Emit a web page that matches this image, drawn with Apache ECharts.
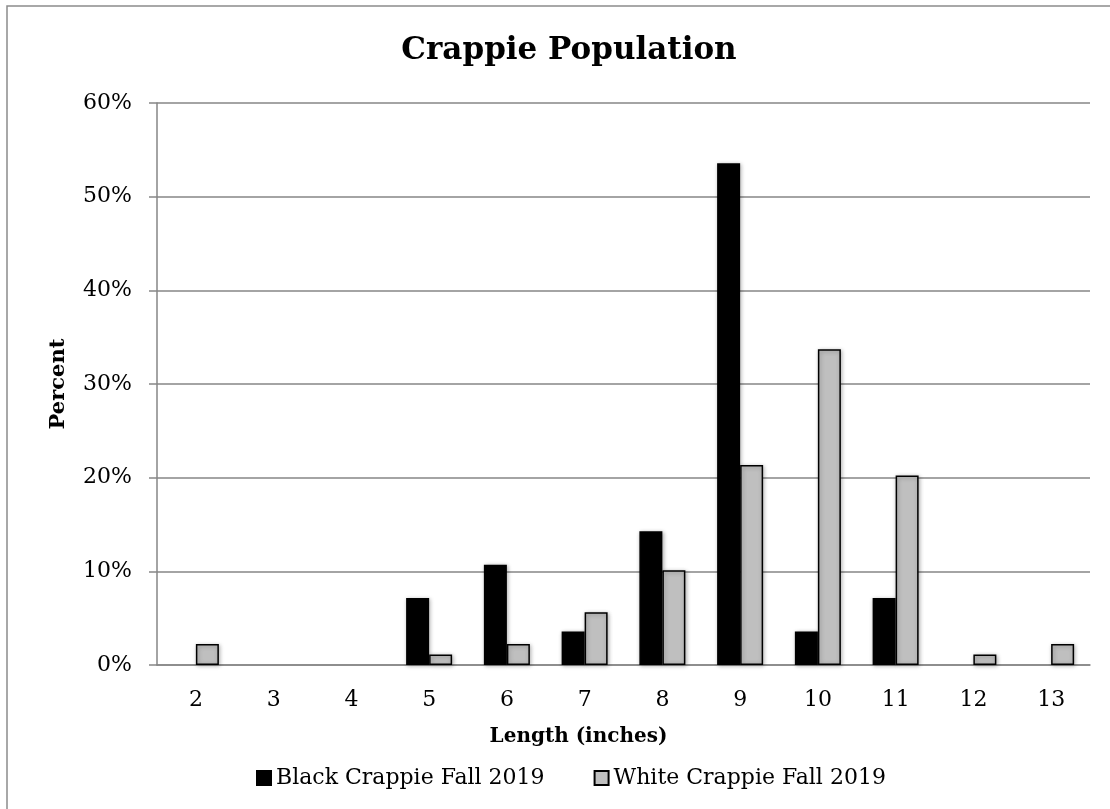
<!DOCTYPE html>
<html>
<head>
<meta charset="utf-8">
<script src="https://cdn.jsdelivr.net/npm/echarts@6/dist/echarts.min.js"></script>
<style>
  html, body { margin: 0; padding: 0; background: #fff; }
  #chart { width: 1110px; height: 809px; }
</style>
</head>
<body>
<div id="chart"></div>
<script>
// Length classes (inches)
const lengths = ['2', '3', '4', '5', '6', '7', '8', '9', '10', '11', '12', '13'];
// Percent of catch in each length class
const blackCrappie = [0, 0, 0, 7.14, 10.71, 3.57, 14.29, 53.57, 3.57, 7.14, 0, 0];
const whiteCrappie = [2.25, 0, 0, 1.12, 2.25, 5.62, 10.11, 21.35, 33.71, 20.22, 1.12, 2.25];
const seriesNames = ['Black Crappie Fall 2019', 'White Crappie Fall 2019'];

const FONT = '"DejaVu Serif", "Liberation Serif", serif';
const chart = echarts.init(document.getElementById('chart'), null, { renderer: 'canvas' });

const barStyle = (fill) => ({
  color: fill,
  borderColor: '#000',
  borderWidth: 1.5,
  shadowColor: 'rgba(0,0,0,0.3)',
  shadowBlur: 4,
  shadowOffsetX: 1,
  shadowOffsetY: 1
});

// Empty length classes get no outline, so nothing shows on the baseline
const toBarData = (values) => values.map(v =>
  v === 0 ? { value: v, itemStyle: { borderWidth: 0, shadowBlur: 0, shadowOffsetX: 0, shadowOffsetY: 0, shadowColor: 'transparent' } } : v
);

chart.setOption({
  animation: false,
  backgroundColor: '#fff',
  textStyle: { fontFamily: FONT },
  graphic: [{
    type: 'rect',
    shape: { x: 7, y: 6, width: 1300, height: 1000 },
    style: { fill: 'none', stroke: '#8c8c8c', lineWidth: 1.5 },
    silent: true,
    z: -1
  }],
  title: {
    text: 'Crappie Population',
    left: 564,
    textAlign: 'center',
    top: 30,
    textStyle: { fontFamily: FONT, fontSize: 31, fontWeight: 'bold', color: '#000' }
  },
  legend: {
    data: seriesNames,
    top: 762,
    left: 251,
    itemWidth: 14,
    itemHeight: 14,
    itemGap: 49,
    icon: 'rect',
    textStyle: { fontFamily: FONT, fontSize: 22, color: '#000' }
  },
  grid: { left: 157, right: 20, top: 103, bottom: 144, containLabel: false },
  xAxis: {
    type: 'category',
    data: lengths,
    name: 'Length (inches)',
    nameLocation: 'middle',
    nameGap: 62,
    nameTextStyle: { fontFamily: FONT, fontSize: 20, fontWeight: 'bold', color: '#000', padding: [0, 90, 0, 0] },
    axisLine: { lineStyle: { color: '#868686', width: 1.5 } },
    axisTick: { show: false },
    axisLabel: { fontFamily: FONT, fontSize: 22, color: '#000', margin: 24 }
  },
  yAxis: {
    type: 'value',
    min: 0,
    max: 60,
    interval: 10,
    name: 'Percent',
    nameLocation: 'middle',
    nameGap: 88,
    nameTextStyle: { fontFamily: FONT, fontSize: 21, fontWeight: 'bold', color: '#000' },
    axisLine: { show: true, lineStyle: { color: '#868686', width: 1.5 } },
    axisTick: { show: true, length: 8, lineStyle: { color: '#868686', width: 1.5 } },
    axisLabel: { fontFamily: FONT, fontSize: 22, color: '#000', margin: 25, formatter: '{value}%' },
    splitLine: { lineStyle: { color: '#868686', width: 1.5 } }
  },
  series: [
    {
      name: seriesNames[0],
      type: 'bar',
      data: toBarData(blackCrappie),
      barWidth: 23,
      barGap: '0%',
      itemStyle: barStyle('#000000')
    },
    {
      name: seriesNames[1],
      type: 'bar',
      data: toBarData(whiteCrappie),
      barWidth: 23,
      barGap: '0%',
      itemStyle: barStyle('#bfbfbf')
    }
  ]
});
</script>
</body>
</html>
